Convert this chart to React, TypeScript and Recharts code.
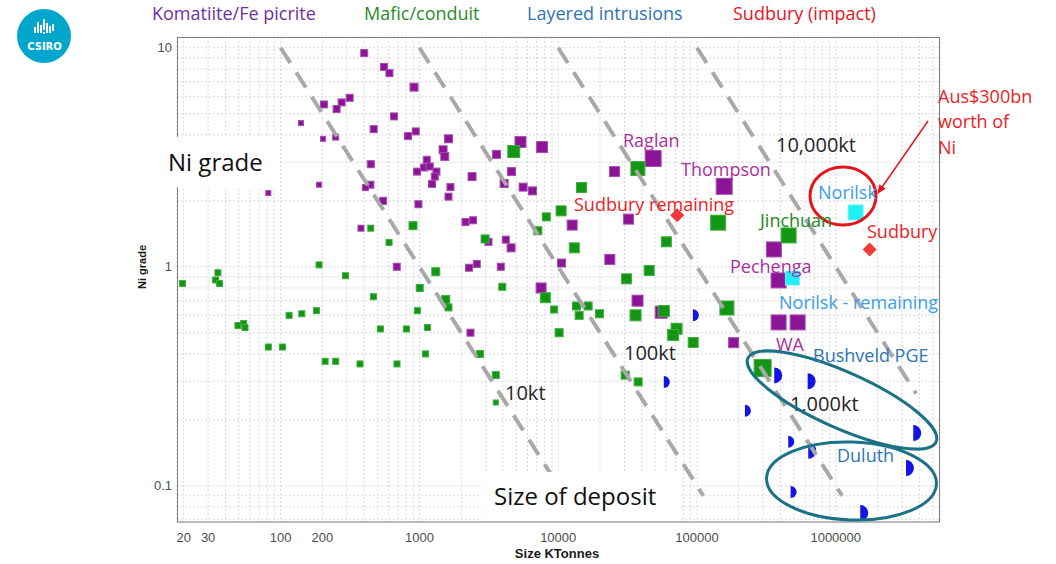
import React from 'react';
import { ScatterChart, Scatter, XAxis, YAxis, CartesianGrid } from 'recharts';

// [size kt, Ni grade %, marker size px]
type P = [number, number, number];

const komatiite: P[] = [
  [400, 9.46, 7], [555, 8.17, 7], [608, 7.66, 7], [914, 6.61, 8], [314, 5.91, 7], [275, 5.63, 7],
  [205, 5.51, 7], [253, 5.25, 7], [656, 4.86, 7], [140, 4.53, 5], [468, 4.25, 7], [940, 4.15, 7],
  [828, 3.95, 7], [202, 3.84, 5], [249, 3.91, 6], [1619, 3.84, 8], [1480, 3.42, 8], [1522, 3.19, 8],
  [1129, 3.08, 7], [446, 2.94, 7], [1080, 2.84, 7], [1187, 2.87, 7], [961, 2.72, 7], [1326, 2.72, 7],
  [1289, 2.58, 7], [189, 2.37, 5], [443, 2.37, 7], [408, 2.3, 6], [1232, 2.39, 7], [1673, 2.31, 7],
  [1619, 2.09, 7], [81.5, 2.17, 5], [547, 2.0, 7], [983, 1.93, 7], [379, 1.5, 6], [686, 1.0, 7],
  [2278, 0.99, 7], [2589, 1.03, 7], [3856, 1.0, 7], [4575, 1.22, 8], [7528, 0.8, 10], [2332, 0.5, 7],
  [10564, 1.04, 8], [23550, 1.08, 10], [37290, 0.7, 11], [55200, 0.62, 12], [5347, 3.71, 11],
  [7654, 3.52, 11], [3591, 3.26, 8], [2394, 2.58, 8], [4606, 2.72, 8], [4074, 2.4, 8], [5585, 2.31, 8],
  [6525, 2.22, 8], [25460, 2.72, 10], [48330, 3.12, 16], [32130, 1.65, 10], [12600, 1.55, 10],
  [2146, 1.6, 7], [2434, 1.63, 7], [3144, 1.3, 7], [4191, 1.33, 7], [157100, 2.33, 16],
  [358400, 1.2, 15], [387500, 0.866, 15], [387500, 0.557, 15], [531300, 0.557, 15], [183600, 0.45, 10],
];

const mafic: P[] = [
  [19.6, 0.839, 6], [35.3, 0.939, 6], [34.0, 0.87, 6], [36.3, 0.839, 6], [49.2, 0.539, 6], [54.1, 0.551, 6],
  [55.3, 0.528, 6], [81.5, 0.43, 6], [103, 0.43, 6], [115, 0.6, 6], [142, 0.61, 6], [181, 0.63, 6],
  [189, 1.02, 6], [209, 0.37, 6], [249, 0.37, 6], [293, 0.91, 6], [373, 0.36, 6], [466, 0.73, 6],
  [523, 0.52, 6], [689, 0.36, 6], [806, 0.52, 6], [967, 0.63, 6], [1005, 0.8, 7], [1105, 0.4, 6],
  [1142, 0.528, 6], [1311, 0.949, 8], [1548, 0.709, 8], [1619, 0.652, 7], [446, 1.5, 6], [899, 1.54, 8],
  [604, 1.29, 6], [3954, 0.81, 7], [8072, 0.722, 10], [2735, 0.4, 7], [3549, 0.32, 7], [3549, 0.24, 5],
  [9342, 0.638, 7], [13550, 0.662, 8], [14150, 0.6, 8], [16430, 0.662, 8], [19850, 0.61, 8],
  [36070, 0.6, 11], [57700, 0.628, 11], [71270, 0.521, 11], [67330, 0.488, 11], [93900, 0.451, 10],
  [10150, 0.5, 8], [30370, 0.32, 8], [37670, 0.298, 8], [45230, 0.962, 10], [31070, 0.881, 10],
  [4786, 3.36, 12], [14720, 2.3, 10], [37500, 2.81, 14], [10490, 1.8, 10], [8209, 1.69, 8],
  [7129, 1.46, 8], [2972, 1.34, 8], [13060, 1.22, 10], [60160, 1.3, 10], [142200, 1.59, 15],
  [457500, 1.39, 15], [164300, 0.648, 14], [297200, 0.345, 17],
];

const layered: P[] = [
  [93400, 0.6, 6], [57700, 0.298, 6], [360300, 0.319, 8], [627300, 0.3, 8], [221500, 0.22, 6],
  [454500, 0.159, 6], [633500, 0.1445, 8], [3620000, 0.174, 8], [3207000, 0.1204, 8],
  [473000, 0.0936, 6], [1502000, 0.075, 8],
];

const sudbury: P[] = [[72000, 1.72, 14], [1755000, 1.2, 14]];
const norilsk: P[] = [[1391000, 1.77, 15], [487400, 0.888, 14]];

// contained-metal guide lines (grade% x size / 100 = constant)
const line10kt = [{ x: 100, y: 10 }, { x: 11111, y: 0.09 }];
const line100kt = [{ x: 1000, y: 10 }, { x: 111111, y: 0.09 }];
const line1000kt = [{ x: 10000, y: 10 }, { x: 1111111, y: 0.09 }];
const line10000kt = [{ x: 100000, y: 10 }, { x: 3800000, y: 0.263 }];

const xLabels = [20, 30, 100, 200, 1000, 10000, 100000, 1000000];
const yLabels = [0.1, 1, 10];

const xDomain = [17.9, 5640000];
const yDomain = [0.0683, 11.2];

// grid at every 1..9 x 10^n inside the domain
const minorTicks = (lo: number, hi: number) => {
  const out: number[] = [];
  for (let e = -2; e <= 7; e++) {
    for (let k = 1; k <= 9; k++) {
      const v = +(k * Math.pow(10, e)).toPrecision(3);
      if (v >= lo && v <= hi) out.push(v);
    }
  }
  return out;
};
const xTicks = minorTicks(xDomain[0], xDomain[1]);
const yTicks = minorTicks(yDomain[0], yDomain[1]);

const toPts = (arr: P[]) => arr.map(([x, y, s]) => ({ x, y, s }));

const square = (fill: string, edge: string) => (props: any) => {
  const { cx, cy, payload } = props;
  const s = payload.s;
  return <rect x={cx - s / 2} y={cy - s / 2} width={s} height={s} fill={fill} stroke={edge} strokeWidth={1} />;
};

const diamond = (props: any) => {
  const { cx, cy, payload } = props;
  const h = payload.s / 2;
  return <path d={`M${cx},${cy - h}L${cx + h},${cy}L${cx},${cy + h}L${cx - h},${cy}Z`} fill="#f23a3a" />;
};

const halfDisc = (props: any) => {
  const { cx, cy, payload } = props;
  const r = payload.s;
  return <path d={`M${cx},${cy - r}A${r},${r} 0 0 1 ${cx},${cy + r}Z`} fill="#1414e6" />;
};

const noShape = () => <g />;

const dashLine = { stroke: '#a8a8a8', strokeWidth: 4, strokeDasharray: '18 11' };

const tickStyle = { fontFamily: '"Liberation Sans", Arial, sans-serif', fontSize: 13, fill: '#4d4d4d' };

const fmtX = (v: number) => (xLabels.includes(v) ? String(v) : '');
const fmtY = (v: number) => (yLabels.includes(v) ? String(v) : '');

const ann = '"Open Sans", sans-serif';
const magenta = '#ab2f9f';

const notes = [
  { t: 'Raglan', x: 623, y: 147, c: magenta },
  { t: 'Thompson', x: 681, y: 176, c: magenta },
  { t: 'Sudbury remaining', x: 574, y: 211, c: '#ee1c24' },
  { t: 'Norilsk', x: 818, y: 199, c: '#3a9ef0' },
  { t: 'Jinchuan', x: 760, y: 227, c: '#1f8a1f' },
  { t: 'Sudbury', x: 867, y: 238, c: '#ee1c24' },
  { t: 'Pechenga', x: 730, y: 273, c: magenta },
  { t: 'Norilsk - remaining', x: 779, y: 309, c: '#3a9ef0' },
  { t: 'WA', x: 776, y: 351, c: magenta },
  { t: 'Bushveld PGE', x: 813, y: 362, c: '#2e75b6' },
  { t: 'Duluth', x: 837, y: 462, c: '#2e75b6' },
  { t: 'Aus$300bn', x: 938, y: 103, c: '#ee1c24' },
  { t: 'worth of', x: 938, y: 128, c: '#ee1c24' },
  { t: 'Ni', x: 938, y: 154, c: '#ee1c24' },
];

const isoNotes = [
  { t: '10kt', x: 505, y: 400 },
  { t: '100kt', x: 624, y: 360 },
  { t: '1,000kt', x: 790, y: 411 },
  { t: '10,000kt', x: 776, y: 152 },
];

const legend = [
  { t: 'Komatiite/Fe picrite', x: 152, c: '#7030a0' },
  { t: 'Mafic/conduit', x: 364, c: '#2a8a2a' },
  { t: 'Layered intrusions', x: 527, c: '#2e75b6' },
  { t: 'Sudbury (impact)', x: 733, c: '#e8141c' },
];

const logoBars = [
  [35, 27, 33], [38, 22, 33], [41, 25, 33], [44, 19, 30], [47, 23, 33], [50, 26, 33], [53, 24, 31],
];

export default function App() {
  return (
    <div style={{ position: 'absolute', left: 0, top: 0, width: 1056, height: 564, background: '#fff' }}>
      <ScatterChart width={1056} height={564} margin={{ top: 37, right: 116, bottom: 12, left: 137 }}>
        <CartesianGrid stroke="#d9d9d9" strokeDasharray="2 2" />
        <XAxis
          dataKey="x"
          type="number"
          scale="log"
          domain={xDomain}
          allowDataOverflow
          ticks={xTicks}
          interval={0}
          tickFormatter={fmtX}
          axisLine={false}
          tickLine={false}
          tickSize={0}
          tickMargin={11}
          height={30}
          tick={tickStyle}
        />
        <YAxis
          dataKey="y"
          type="number"
          scale="log"
          domain={yDomain}
          allowDataOverflow
          ticks={yTicks}
          interval={0}
          tickFormatter={fmtY}
          axisLine={false}
          tickLine={false}
          tickSize={0}
          tickMargin={5}
          width={40}
          tick={tickStyle}
        />
        <Scatter data={toPts(komatiite)} shape={square('#8c1496', '#a64db0')} isAnimationActive={false} />
        <Scatter data={toPts(mafic)} shape={square('#139613', '#3fae3f')} isAnimationActive={false} />
        <Scatter data={toPts(norilsk)} shape={square('#1ff0f5', '#6ff5f8')} isAnimationActive={false} />
        <Scatter data={toPts(sudbury)} shape={diamond} isAnimationActive={false} />
        <Scatter data={toPts(layered)} shape={halfDisc} isAnimationActive={false} />
        <Scatter data={line10kt} line={dashLine} shape={noShape} isAnimationActive={false} />
        <Scatter data={line100kt} line={dashLine} shape={noShape} isAnimationActive={false} />
        <Scatter data={line1000kt} line={dashLine} shape={noShape} isAnimationActive={false} />
        <Scatter data={line10000kt} line={dashLine} shape={noShape} isAnimationActive={false} />
      </ScatterChart>

      <svg width={1056} height={564} style={{ position: 'absolute', left: 0, top: 0, pointerEvents: 'none' }}>
        <defs>
          <marker id="arr" markerWidth="10" markerHeight="10" refX="8" refY="5" orient="auto" markerUnits="userSpaceOnUse">
            <path d="M0,1L9,5L0,9Z" fill="#e8141c" />
          </marker>
        </defs>
        <rect x={177.5} y={37.5} width={762} height={484.5} fill="none" stroke="#7f7f7f" strokeWidth={1} />
        <rect x={150} y={137} width={130} height={50} fill="#fff" />
        <rect x={482} y={472} width={198} height={49} fill="#fff" />

        {/* logo */}
        <circle cx={44} cy={36} r={27} fill="#00a6cb" />
        {logoBars.map(([x, t, b], i) => (
          <rect key={i} x={x - 1} y={t} width={2} height={b - t} fill="#fff" />
        ))}
        <circle cx={44} cy={33} r={1.1} fill="#fff" />
        <text x={44.5} y={50} textAnchor="middle" fontFamily='"DejaVu Sans", sans-serif' fontWeight="bold" fontSize={10} fill="#fff">
          CSIRO
        </text>

        {legend.map((l) => (
          <text key={l.t} x={l.x} y={20} fontFamily={ann} fontSize={18} fill={l.c}>
            {l.t}
          </text>
        ))}

        <text x={168} y={171} fontFamily={ann} fontSize={24} fill="#111">Ni grade</text>
        <text x={494} y={505} fontFamily={ann} fontSize={24} fill="#111">Size of deposit</text>

        {isoNotes.map((n) => (
          <text key={n.t} x={n.x} y={n.y} fontFamily={ann} fontSize={20} fill="#262626">
            {n.t}
          </text>
        ))}

        <ellipse cx={842} cy={400} rx={103} ry={28} transform="rotate(24 842 400)" fill="none" stroke="#1b7186" strokeWidth={3} />
        <ellipse cx={851.5} cy={481} rx={85} ry={39} transform="rotate(2 851.5 481)" fill="none" stroke="#1b7186" strokeWidth={3} />
        <ellipse cx={843} cy={196} rx={33} ry={29} fill="none" stroke="#e8141c" strokeWidth={3} />
        <line x1={928} y1={121} x2={878} y2={193} stroke="#e8141c" strokeWidth={1.5} markerEnd="url(#arr)" />

        {notes.map((n) => (
          <text key={n.t} x={n.x} y={n.y} fontFamily={ann} fontSize={18} fill={n.c}>
            {n.t}
          </text>
        ))}

        <text
          x={146}
          y={267}
          transform="rotate(-90 146 267)"
          textAnchor="middle"
          fontFamily='"Liberation Sans", Arial, sans-serif'
          fontWeight="bold"
          fontSize={11}
          fill="#1a1a1a"
        >
          Ni grade
        </text>
        <text
          x={557}
          y={558}
          textAnchor="middle"
          fontFamily='"Liberation Sans", Arial, sans-serif'
          fontWeight="bold"
          fontSize={13}
          fill="#1a1a1a"
        >
          Size KTonnes
        </text>
      </svg>
    </div>
  );
}
